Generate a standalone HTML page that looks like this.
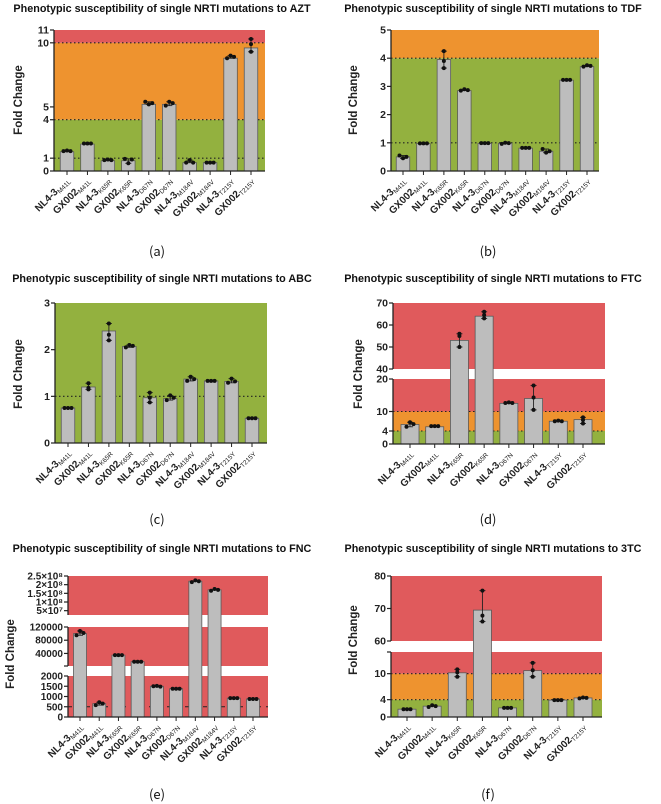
<!DOCTYPE html>
<html><head><meta charset="utf-8"><style>
body{margin:0;background:#fff;}
svg{display:block;font-family:"Liberation Sans",Arial,sans-serif;}
</style></head><body>
<svg id="fig" width="661" height="804" viewBox="0 0 661 804" xmlns="http://www.w3.org/2000/svg"></svg>
<script>
const catsA=["M41L","M41L","K65R","K65R","D67N","D67N","M184V","M184V","T215Y","T215Y"];
const catsB=["M41L","M41L","K65R","K65R","D67N","D67N","T215Y","T215Y"];
const strainA=["NL4-3","GX002","NL4-3","GX002","NL4-3","GX002","NL4-3","GX002","NL4-3","GX002"];
const strainB=["NL4-3","GX002","NL4-3","GX002","NL4-3","GX002","NL4-3","GX002"];
const valsAZT=[1.5,2.1,0.8,0.8,5.2,5.2,0.65,0.65,8.8,9.6];
const ptsAZT=[[1.55,1.6,1.55],[2.15,2.15,2.15],[0.85,0.9,0.85],[0.95,0.6,0.9],[5.4,5.2,5.3],[5.1,5.4,5.3],[0.65,0.85,0.65],[0.65,0.65,0.65],[8.8,9.0,8.9],[10.3,9.9,9.3]];
const valsTDF=[0.5,0.97,3.95,2.85,0.98,0.98,0.81,0.7,3.22,3.7];
const ptsTDF=[[0.55,0.45,0.5],[0.98,0.98,0.98],[4.25,3.9,3.65],[2.85,2.9,2.87],[0.99,0.99,0.99],[0.96,1.0,0.99],[0.82,0.82,0.82],[0.78,0.65,0.7],[3.23,3.23,3.23],[3.7,3.75,3.73]];
const valsABC=[0.75,1.2,2.4,2.07,0.97,0.95,1.37,1.33,1.32,0.53];
const ptsABC=[[0.75,0.75,0.75],[1.15,1.28,1.18],[2.2,2.56,2.32],[2.05,2.1,2.08],[0.87,1.08,0.97],[0.92,1.02,0.97],[1.33,1.42,1.37],[1.33,1.33,1.33],[1.29,1.38,1.32],[0.53,0.53,0.53]];
const valsFTC=[6,5.3,53,64,12.5,14,7,7.5];
const ptsFTC=[[5.3,6.7,6.1],[5.5,5.5,5.5],[50,55,56],[63,66,64.5],[12.6,12.8,12.6],[10.5,14.3,18],[7,7.2,7],[8.2,6.3,7.4]];
const valsFNC=[100000,650,35000,15000,1500,1380,220000000,170000000,920,880];
const ptsFNC=[[95000,108000,102000],[580,720,650],[35000,35000,35000],[15000,15000,15000],[1500,1520,1480],[1380,1380,1380],[215000000,225000000,220000000],[165000000,175000000,170000000],[920,920,920],[880,880,880]];
const vals3TC=[1.8,2.5,10.2,69.5,2.1,10.7,3.9,4.4];
const pts3TC=[[1.8,1.8,1.8],[2.3,2.7,2.5],[11,9.3,10.3],[66,67.8,75.5],[2.1,2.1,2.1],[12.5,9.3,10.8],[3.9,3.9,3.9],[4.3,4.5,4.4]];

const RED="#e05a5c",OR="#ee932f",GR="#93b13f";
const NS="http://www.w3.org/2000/svg";
const fig=document.getElementById('fig');
function el(t,a,p){const e=document.createElementNS(NS,t);for(const k in a)e.setAttribute(k,a[k]);(p||fig).appendChild(e);return e;}

function panel(P){
  const g=el('g',{});
  
  
  function Y(v){
    let s=P.segs[0];
    for(let i=P.segs.length-1;i>=0;i--){ if(v<=P.segs[i].hi){s=P.segs[i];break;} }
    const vv=Math.max(Math.min(v,s.hi),s.lo);
    return s.y1-(vv-s.lo)/(s.hi-s.lo)*(s.y1-s.y0);
  }
  for(const sg of P.segs){
    for(const b of sg.bands){
      const y0=sg.y1-(b[1]-sg.lo)/(sg.hi-sg.lo)*(sg.y1-sg.y0);
      const y1=sg.y1-(b[0]-sg.lo)/(sg.hi-sg.lo)*(sg.y1-sg.y0);
      const r=el('rect',{x:P.x0,y:y0,width:P.x1-P.x0,height:y1-y0,fill:b[2]},g);
      
      
    }
  }
  for(const d of P.dots){
    const y=Y(d);
    const l=el('line',{x1:P.x0,x2:P.x1,y1:y,y2:y,stroke:'#222','stroke-width':1.1,'stroke-dasharray':P.dash||'1.5,2.5'},g);
    
    
  }
  const n=P.vals.length;
  const step=(P.cl-P.cf)/(n-1);
  const base=P.segs[P.segs.length-1].y1;
  for(let i=0;i<n;i++){
    const cx=P.cf+i*step, yt=Y(P.vals[i]);
    const r=el('rect',{x:cx-P.bw/2,y:yt,width:P.bw,height:base-yt,fill:'#bdbdbd',stroke:'#5a5a5a','stroke-width':0.8},g);
    
    
    const ps=P.pts[i];
    const mn=Math.min(...ps),mx=Math.max(...ps);
    const ya=Y(mx),yb=Y(mn);
    if(yb-ya>2){
      el('line',{x1:cx,x2:cx,y1:ya,y2:yb,stroke:'#222','stroke-width':0.9},g);
      el('line',{x1:cx-3,x2:cx+3,y1:ya,y2:ya,stroke:'#222','stroke-width':0.9},g);
      el('line',{x1:cx-3,x2:cx+3,y1:yb,y2:yb,stroke:'#222','stroke-width':0.9},g);
    }
    const off=yb-ya>5?[0,0,0]:[-3.5,0,3.5];
    ps.forEach((v,j)=>{
      const c=el('circle',{cx:cx+off[j],cy:Y(v),r:2,fill:'#111'},g);
      
      
    });
    el('line',{x1:cx,x2:cx,y1:base,y2:base+4,stroke:'#222','stroke-width':1},g);
    const t=el('text',{x:cx+3,y:base+10,'text-anchor':'end','font-size':10,'font-weight':'bold',fill:'#222',transform:`rotate(-45 ${cx+3} ${base+10})`},g);
    
    
    t.textContent=P.strain[i];
    const s=el('tspan',{'font-size':6.5,'font-weight':'normal',dy:2},t);
    s.textContent=P.cats[i];
  }
  el('line',{x1:P.x0,x2:P.x1,y1:base,y2:base,stroke:'#222','stroke-width':1.3},g);
  for(const sg of P.segs){
    el('line',{x1:P.x0,x2:P.x0,y1:sg.y0,y2:sg.y1,stroke:'#222','stroke-width':1.3},g);
    sg.ticks.forEach((tv,k)=>{
      const y=sg.y1-(tv-sg.lo)/(sg.hi-sg.lo)*(sg.y1-sg.y0);
      el('line',{x1:P.x0-4,x2:P.x0,y1:y,y2:y,stroke:'#222','stroke-width':1.2},g);
      const lbl=sg.labels[k];
      if(lbl!==''){
        const t=el('text',{x:P.x0-5,y:y+3.5,'text-anchor':'end','font-size':P.tfs||10.5,'font-weight':'bold',fill:'#222'},g);
        
        
        t.textContent=lbl;
      }
    });
  }
  const yt=el('text',{x:P.ytx,y:P.yty,'text-anchor':'middle','font-size':11.5,'font-weight':'bold',fill:'#222',transform:`rotate(-90 ${P.ytx} ${P.yty})`},g);
  
  
  yt.textContent='Fold Change';
  const tt=el('text',{x:P.tx,y:P.ty,'text-anchor':'middle','font-size':10.8,'font-weight':'bold',fill:'#111'},g);
  
  
  tt.textContent='Phenotypic susceptibility of single NRTI mutations to '+P.drug;
  const ct=el('text',{x:P.cx,y:P.cy,'text-anchor':'middle','font-size':13,fill:'#111','font-family':'"Noto Sans CJK SC","Liberation Sans",sans-serif'},g);
  
  
  ct.textContent=P.cap;
}

panel({name:'panel-azt',drug:'AZT',cap:'(a)',tx:162,ty:12,cx:157,cy:256,ytx:22,yty:100,
 x0:54,x1:265,cf:67,cl:251,bw:13.5,cats:catsA,strain:strainA,vals:valsAZT,pts:ptsAZT,dots:[1,4,10],
 segs:[{lo:0,hi:11,y0:30,y1:171,ticks:[0,1,4,5,10,11],labels:['0','1','4','5','10','11'],
  bands:[[0,4,GR],[4,10,OR],[10,11,RED]]}]});
panel({name:'panel-tdf',drug:'TDF',cap:'(b)',tx:493,ty:12,cx:488,cy:256,ytx:357,yty:100,
 x0:391,x1:599,cf:403,cl:587,bw:13.5,cats:catsA,strain:strainA,vals:valsTDF,pts:ptsTDF,dots:[1,4],
 segs:[{lo:0,hi:5,y0:30,y1:171,ticks:[0,1,2,3,4,5],labels:['0','1','2','3','4','5'],
  bands:[[0,4,GR],[4,5,OR]]}]});
panel({name:'panel-abc',drug:'ABC',cap:'(c)',tx:162,ty:282,cx:157,cy:524,ytx:22,yty:374,
 x0:55,x1:267,cf:68,cl:252,bw:13.5,cats:catsA,strain:strainA,vals:valsABC,pts:ptsABC,dots:[1],
 segs:[{lo:0,hi:3,y0:303,y1:443,ticks:[0,1,2,3],labels:['0','1','2','3'],bands:[[0,3,GR]]}]});
panel({name:'panel-ftc',drug:'FTC',cap:'(d)',tx:493,ty:282,cx:488,cy:524,ytx:362,yty:374,
 x0:393,x1:605,cf:410,cl:583,bw:18,cats:catsB,strain:strainB,vals:valsFTC,pts:ptsFTC,dots:[4,10],
 segs:[{lo:40,hi:70,y0:303,y1:369,ticks:[40,50,60,70],labels:['40','50','60','70'],bands:[[40,70,RED]]},
  {lo:0,hi:20,y0:379,y1:444,ticks:[0,4,10,20],labels:['0','4','10','20'],bands:[[0,4,GR],[4,10,OR],[10,20,RED]]}]});
panel({name:'panel-fnc',drug:'FNC',cap:'(e)',tx:162,ty:552,cx:157,cy:799,ytx:14,yty:654,tfs:10,dash:'4,5',
 x0:68,x1:268,cf:80,cl:253,bw:13,cats:catsA,strain:strainA,vals:valsFNC,pts:ptsFNC,dots:[500],
 segs:[{lo:25000000,hi:250000000,y0:576,y1:615,ticks:[50000000,100000000,150000000,200000000,250000000],labels:['5×10⁷','1×10⁸','1.5×10⁸','2×10⁸','2.5×10⁸'],bands:[[25000000,250000000,RED]]},
  {lo:2000,hi:120000,y0:627,y1:666,ticks:[2000,40000,80000,120000],labels:['','40000','80000','120000'],bands:[[2000,120000,RED]]},
  {lo:0,hi:2000,y0:676,y1:717,ticks:[0,500,1000,1500,2000],labels:['0','500','1000','1500','2000'],bands:[[0,2000,RED]]}]});
panel({name:'panel-3tc',drug:'3TC',cap:'(f)',tx:493,ty:552,cx:488,cy:799,ytx:357,yty:640,
 x0:391,x1:602,cf:407,cl:583,bw:18,cats:catsB,strain:strainB,vals:vals3TC,pts:pts3TC,dots:[4,10],
 segs:[{lo:60,hi:80,y0:576,y1:641,ticks:[60,70,80],labels:['60','70','80'],bands:[[60,80,RED]]},
  {lo:0,hi:15,y0:652,y1:717,ticks:[0,4,10,15],labels:['0','4','10',''],bands:[[0,4,GR],[4,10,OR],[10,15,RED]]}]});
</script>
</body></html>
